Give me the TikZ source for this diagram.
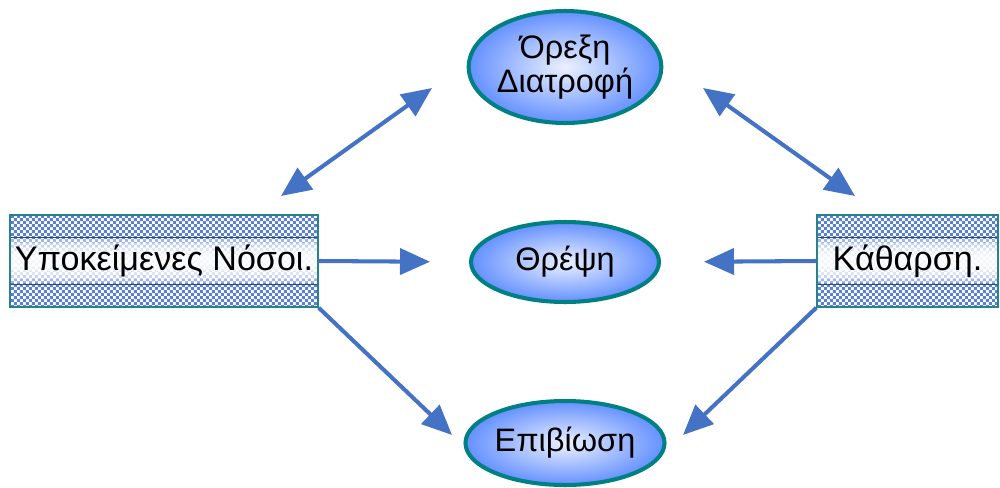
\documentclass[tikz,border=0pt]{standalone}
\usepackage{fontspec}
\setmainfont{Liberation Sans}
\usetikzlibrary{arrows.meta,shapes.geometric,patterns,calc}

% fine two-tone checker used in the cause boxes
\pgfdeclarepatternformonly{smallchecker}{\pgfpointorigin}{\pgfpoint{3.4pt}{3.4pt}}{\pgfpoint{3.4pt}{3.4pt}}{%
  \pgfpathrectangle{\pgfpointorigin}{\pgfpoint{1.7pt}{1.7pt}}%
  \pgfpathrectangle{\pgfpoint{1.7pt}{1.7pt}}{\pgfpoint{1.7pt}{1.7pt}}%
  \pgfusepath{fill}}

\definecolor{arrowblue}{RGB}{68,114,196}
\definecolor{rimteal}{RGB}{0,128,128}
\definecolor{innerblue}{RGB}{236,241,255}
\definecolor{outerblue}{RGB}{100,144,255}
\definecolor{checkblue}{RGB}{88,128,214}
\definecolor{bandline}{RGB}{45,75,115}
\definecolor{boxrim}{RGB}{40,130,140}

\tikzset{
  labelfont/.style={font=\fontsize{18.5}{19.5}\selectfont},
  boxfont/.style={font=\fontsize{19.4}{20}\selectfont},
  topic/.style={ellipse, draw=rimteal, line width=2.3pt,
    inner color=innerblue, outer color=outerblue,
    minimum width=3.76cm, inner sep=0pt, align=center, labelfont},
  cause/.style={rectangle, draw=boxrim, line width=0.8pt,
    pattern=smallchecker, pattern color=checkblue,
    minimum height=1.84cm, inner sep=0pt, boxfont,
    path picture={
      \foreach \h in {0.44,0.36,0.28,0.20,0.12}{
        \fill[white, opacity=0.42]
          ($(path picture bounding box.west)+(0,\h cm)$) rectangle
          ($(path picture bounding box.east)+(0,-\h cm)$);
      }
      \draw[bandline, line width=0.6pt]
        ($(path picture bounding box.west)+(0,0.47cm)$) --
        ($(path picture bounding box.east)+(0,0.47cm)$);
      \draw[bandline, line width=0.6pt]
        ($(path picture bounding box.west)+(0,-0.47cm)$) --
        ($(path picture bounding box.east)+(0,-0.47cm)$);
    }},
  link/.style={draw=arrowblue, line width=2.3pt,
    -{Triangle[length=0.6cm,width=0.52cm]}},
  both/.style={link, {Triangle[length=0.6cm,width=0.52cm]}-{Triangle[length=0.6cm,width=0.52cm]}}
}

\begin{document}
\begin{tikzpicture}[x=0.02cm, y=-0.02cm]
  \useasboundingbox (0,0) rectangle (1000,487);

  % central topics
  \node[topic, minimum height=2.24cm] (orexi) at (565,67) {Όρεξη\\Διατροφή};
  \node[topic, minimum height=1.6cm] (threpsi) at (565,262) {Θρέψη};
  \node[topic, minimum height=1.68cm] (epiviosi) at (565,443) {Επιβίωση};

  % influencing factors
  \node[cause, minimum width=6.16cm] (nosoi) at (164,261) {Υποκείμενες Νόσοι.};
  \node[cause, minimum width=3.62cm] (katharsi) at (907.5,261) {Κάθαρση.};

  % free ends of the diagonal connectors
  \coordinate (ul1) at (281,196);
  \coordinate (ul2) at (432,88);
  \coordinate (ur1) at (703,88);
  \coordinate (ur2) at (855,196);
  \coordinate (ll) at (452,435);
  \coordinate (lr) at (683,435);

  \draw[both] (ul1) -- (ul2);
  \draw[both] (ur1) -- (ur2);
  \draw[link, shorten >=0.78cm] (nosoi.east) -- (threpsi.west);
  \draw[link, shorten >=0.86cm] (katharsi.west) -- (threpsi.east);
  \draw[link] (nosoi.south east) -- (ll);
  \draw[link] (katharsi.south west) -- (lr);
\end{tikzpicture}
\end{document}
